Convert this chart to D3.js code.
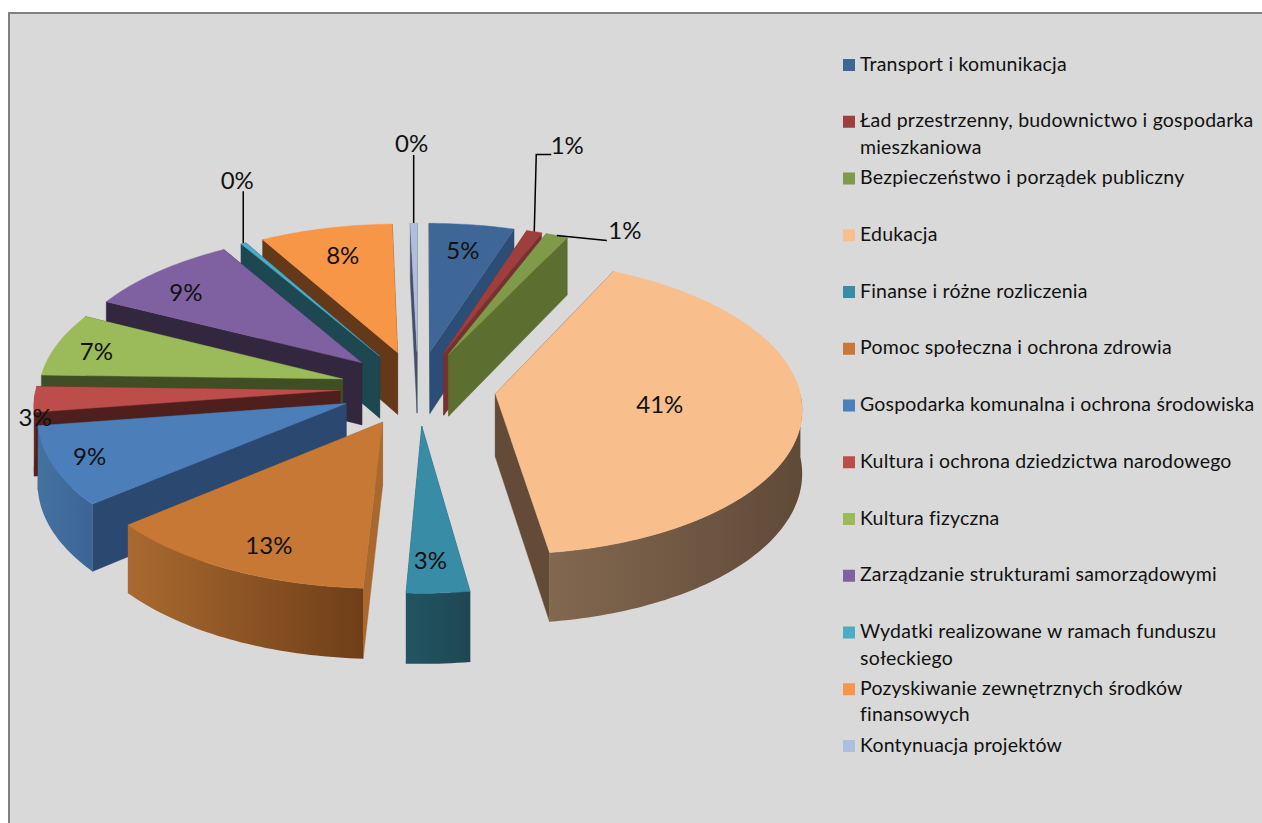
<!DOCTYPE html>
<html><head><meta charset="utf-8">
<style>html,body{margin:0;padding:0;background:#fff;overflow:hidden}svg{display:block}text{font-family:Lato,"Open Sans",sans-serif;fill:#111}</style>
<script src="https://cdnjs.cloudflare.com/ajax/libs/d3/7.8.5/d3.min.js"></script>
</head><body><svg id="c" width="1262" height="823"></svg>
<script>
const categories = ["Transport i komunikacja","Ład przestrzenny, budownictwo i gospodarka|mieszkaniowa","Bezpieczeństwo i porządek publiczny","Edukacja","Finanse i różne rozliczenia","Pomoc społeczna i ochrona zdrowia","Gospodarka komunalna i ochrona środowiska","Kultura i ochrona dziedzictwa narodowego","Kultura fizyczna","Zarządzanie strukturami samorządowymi","Wydatki realizowane w ramach funduszu|sołeckiego","Pozyskiwanie zewnętrznych środków|finansowych","Kontynuacja projektów"];
const shares = [5.0,0.9,1.3,40.6,3.0,13.2,8.7,2.8,7.0,9.1,0.3,7.8,0.4];
const topColors = ["#3e6797","#9c3f3d","#7f9a48","#f8be8c","#398ca6","#c67834","#4c7eba","#bd4d4a","#9bba59","#7f60a0","#4bacc6","#f79646","#adbedf"];
const wallColors = ["#2c4d75","#763130","#5c6f31","#644b38","#1f4b58","#a9682e","#2b4870","#4f1f1e","#404e23","#33263f","#1d4751","#63391a","#44506a"];
const outerFrom = ["#3e6797","#763130","#5c6f31","#836850","#215563","#a96a30","#44729f","#6b2a28","#404e23","#33263f","#1d4751","#63391a","#44506a"];
const outerTo = ["#2c4d75","#763130","#5c6f31","#5f4a38","#1f4753","#6f3e18","#3c6596","#6b2a28","#404e23","#33263f","#1d4751","#63391a","#44506a"];
const labelRadius = [0.77,1,1,0.54,0.83,0.84,0.88,1.0,0.85,0.80,1,0.75,1];
const labelAngleShift = [0,0,0,0,1,-3,0,-8,-2,-4,0,0,0];
// leader lines: [bend dx, bend dy, end dx, end dy] from the slice rim, text offset from line end
const leaders = {1:[[2,-77],[17,-77]],2:[[50,5],[50,5]],10:[[0,-52],[0,-52]],12:[[0,-68],[0,-68]]};
const leaderText = {1:[16,-7],2:[18,-8],10:[-6,-9],12:[-2,-9]};

const W=1262,H=823, R=304, squash=0.479, F=3520, depth=63, explode=78;
const svg=d3.select("#c");
const px=d3.scaleLinear().domain([0,1]).range([418,419]);
const py=d3.scaleLinear().domain([0,1]).range([388,389]);
function proj(X,Y,z=0){const p=F/(F-Y);return [px(X*p),py(Y*squash*p)+z*p];}
const arcs=d3.pie().value(d=>d).sort(null)(shares).map((a,i)=>({...a,i,mid:(a.startAngle+a.endAngle)/2}));
const line=d3.line();
const defs=svg.append("defs");
svg.append("rect").attr("x",0).attr("y",0).attr("width",W).attr("height",H).attr("fill","#fff");
svg.append("rect").attr("x",9).attr("y",13).attr("width",W).attr("height",H).attr("fill","#d9d9d9").attr("stroke","#808080").attr("stroke-width",2);

function geom(a){
  const ax=explode*Math.sin(a.mid), ay=-explode*Math.cos(a.mid);
  const rim=(t,r=R)=>[ax+r*Math.sin(t),ay-r*Math.cos(t)];
  return {ax,ay,rim};
}
function angles(a0,a1){const n=Math.max(2,Math.ceil((a1-a0)/0.02));return d3.range(n+1).map(k=>a0+(a1-a0)*k/n);}

const order=arcs.slice().sort((p,q)=>(-Math.cos(p.mid))-(-Math.cos(q.mid)));
order.forEach(a=>{
  const g=geom(a), i=a.i, apex=[g.ax,g.ay];
  const g0=svg.append("g").attr("class","slice");
  [a.startAngle,a.endAngle].forEach(t=>{
    const e=g.rim(t);
    g0.append("path").attr("fill",wallColors[i]).attr("stroke",wallColors[i]).attr("stroke-width",.4)
      .attr("d",line([proj(...apex),proj(...e),proj(...e,depth),proj(...apex,depth)])+"Z");
  });
  const f0=Math.max(a.startAngle,Math.PI/2), f1=Math.min(a.endAngle,Math.PI*1.5);
  if(f1>f0){
    const ts=angles(f0,f1);
    const up=ts.map(t=>proj(...g.rim(t))), dn=ts.map(t=>proj(...g.rim(t),depth)).reverse();
    const xs=up.map(d=>d[0]);
    const id="o"+i;
    const lg=defs.append("linearGradient").attr("id",id).attr("gradientUnits","userSpaceOnUse")
      .attr("x1",d3.min(xs)).attr("x2",d3.max(xs)).attr("y1",0).attr("y2",0);
    lg.append("stop").attr("offset",0).attr("stop-color",outerFrom[i]);
    lg.append("stop").attr("offset",1).attr("stop-color",outerTo[i]);
    g0.append("path").attr("fill",`url(#${id})`).attr("d",line(up.concat(dn))+"Z");
  }
  const ts=angles(a.startAngle,a.endAngle);
  g0.append("path").attr("fill",topColors[i]).attr("stroke",topColors[i]).attr("stroke-width",.4)
    .attr("d",line([proj(...apex)].concat(ts.map(t=>proj(...g.rim(t)))))+"Z");
});

const total=d3.sum(shares);
const pct=v=>Math.round(v/total*100)+"%";
arcs.forEach(a=>{
  const g=geom(a), i=a.i;
  const tt=a.mid+labelAngleShift[i]*Math.PI/180;
  if(leaders[i]){
    const s=proj(...g.rim(a.mid));
    const [b,e]=leaders[i];
    const pts=[s,[s[0]+b[0],s[1]+b[1]],[s[0]+e[0],s[1]+e[1]]];
    svg.append("path").attr("fill","none").attr("stroke","#000").attr("stroke-width",1.5).attr("d",line(pts));
    const o=leaderText[i];
    svg.append("text").attr("x",pts[2][0]+o[0]).attr("y",pts[2][1]+o[1]-3).attr("text-anchor","middle").attr("dominant-baseline","central").attr("font-size",24).text(pct(shares[i]));
  } else {
    const p=proj(...g.rim(tt,R*labelRadius[i]));
    svg.append("text").attr("x",p[0]).attr("y",p[1]-3).attr("text-anchor","middle").attr("dominant-baseline","central").attr("font-size",24).text(pct(shares[i]));
  }
});

const ly=d3.scaleLinear().domain([0,categories.length-1]).range([64,745]);
categories.forEach((c,i)=>{
  const y=ly(i);
  svg.append("rect").attr("x",843).attr("y",y-5).attr("width",12).attr("height",12).attr("fill",topColors[i]);
  c.split("|").forEach((t,k)=>{
    svg.append("text").attr("x",860).attr("y",y-1+k*26.5).attr("dominant-baseline","central").attr("font-size",19.5).attr("letter-spacing",.2).text(t);
  });
});
</script></body></html>
